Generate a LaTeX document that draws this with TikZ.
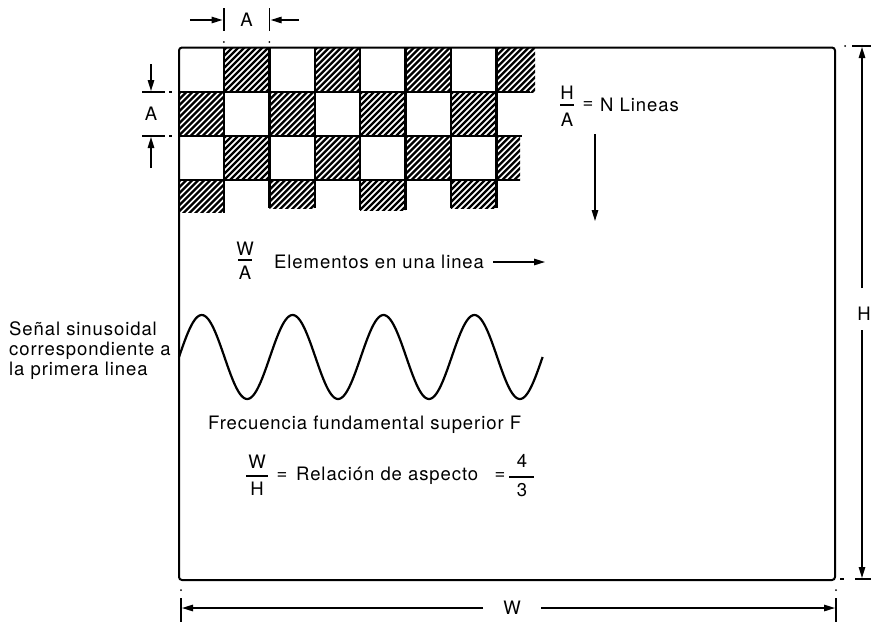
\documentclass[tikz,border=0pt]{standalone}
\usepackage{fontspec}
\setmainfont{TeX Gyre Heros}[LetterSpace=5]
\usetikzlibrary{arrows.meta}
\newcommand\hcell[4]{\begin{scope}\clip (#1,#2) rectangle (#3,#4);
  \foreach \s in {-50,-44,...,56} \draw[hatchline] (#1+\s,#4+2) -- ++(56,-56);
  \end{scope}}
\begin{document}
\begin{tikzpicture}[x=1pt,y=-1pt,
  txt/.style={font=\fontsize{18.5}{20}\selectfont, inner sep=0pt},
  dimline/.style={line width=1.4pt},
  arr/.style={line width=1.4pt, -{Triangle[length=11pt,width=6.5pt]}},
  frame/.style={line width=2pt, rounded corners=3pt},
  gridline/.style={line width=2.4pt},
  hatchline/.style={line width=2.3pt},
  wave/.style={line width=2.2pt},
  fracbar/.style={line width=1.3pt}]
\useasboundingbox (0,0) rectangle (871,622);

% ---------- hatched cells ----------
% row 0 (48-92)
\hcell{223.9}{48}{269.3}{92}
\hcell{314.7}{48}{360.1}{92}
\hcell{405.5}{48}{450.9}{92}
\hcell{496.3}{48}{535}{92}
% row 1 (92-136)
\hcell{178.5}{92}{223.9}{136}
\hcell{269.3}{92}{314.7}{136}
\hcell{360.1}{92}{405.5}{136}
\hcell{450.9}{92}{496.3}{136}
% row 2 (136-180)
\hcell{223.9}{136}{269.3}{180}
\hcell{314.7}{136}{360.1}{180}
\hcell{405.5}{136}{450.9}{180}
\hcell{496.3}{136}{520}{180}
% row 3 (partial)
\hcell{178.5}{180}{223.9}{212}
\hcell{269.3}{180}{314.7}{208}
\hcell{360.1}{180}{405.5}{210}
\hcell{450.9}{180}{496.3}{208}

% ---------- grid lines ----------
\draw[gridline] (178.5,92) -- (530,92);
\draw[gridline] (178.5,136) -- (522,136);
\draw[gridline] (178.5,180) -- (520,180);
\foreach \xx/\yb in {223.9/213, 269.3/208, 314.7/208, 360.1/210, 405.5/210, 450.9/208, 496.3/208}
  \draw[gridline] (\xx,48) -- (\xx,\yb);

% ---------- frame ----------
\draw[frame] (179,47.5) rectangle (835,580);

% ---------- sine wave ----------
\draw[wave] plot[domain=0:363.6, samples=240, smooth] ({179+\x},{357-42*sin(\x*3.9604)});

% ---------- top A dimension ----------
\coordinate (ta1) at (223.9,8);
\coordinate (ta2) at (269.3,8);
\draw[dimline] (ta1) -- (223.9,31);
\draw[dimline] (ta2) -- (269.3,31);
\fill (223.9,42) circle (1pt);
\fill (269.3,42) circle (1pt);
\coordinate (tal) at (190,20);
\coordinate (tar) at (299,20);
\draw[arr] (tal) -- (222.5,20);
\draw[arr] (tar) -- (270.7,20);
\node[txt] (topA) at (246.6,20) {A};

% ---------- left A dimension ----------
\draw[dimline] (142,92) -- (165,92);
\draw[dimline] (142,136) -- (165,136);
\draw[dimline] (169,92) -- (172,92);
\draw[dimline] (169,136) -- (172,136);
\coordinate (la1) at (151,64);
\coordinate (la2) at (151,168);
\draw[arr] (la1) -- (151,91);
\draw[arr] (la2) -- (151,137);
\node[txt] (leftA) at (151,114) {A};

% ---------- H/A = N Lineas ----------
\node[txt] (haH) at (567,93) {H};
\draw[fracbar] (560,105) -- (574,105);
\node[txt] (haA) at (567,120) {A};
\node[txt] (haEq) at (588,105) {=};
\node[txt, anchor=west] (haTxt) at (600,105) {N Lineas};
\coordinate (dn1) at (595,134);
\coordinate (dn2) at (595,221);
\draw[arr] (dn1) -- (dn2);

% ---------- W/A Elementos ----------
\node[txt] (waW) at (245,249) {W};
\draw[fracbar] (238,260) -- (252,260);
\node[txt] (waA) at (245,273) {A};
\node[txt, anchor=west] (waTxt) at (274,262) {Elementos en una linea};
\coordinate (ea1) at (493,262);
\coordinate (ea2) at (545,262);
\draw[arr] (ea1) -- (ea2);

% ---------- left label ----------
\node[txt, anchor=west, align=left] (senal) at (9,351)
  {Señal sinusoidal\\correspondiente a\\la primera linea};

% ---------- frequency ----------
\node[txt, anchor=west] (frec) at (208,425) {Frecuencia fundamental superior F};

% ---------- W/H = aspect ----------
\node[txt] (whW) at (257,462) {W};
\draw[fracbar] (246,476) -- (268,476);
\node[txt] (whH) at (257,489) {H};
\node[txt] (whEq) at (282,476) {=};
\node[txt, anchor=west] (rel) at (296,476) {Relación de aspecto};
\node[txt] (whEq2) at (500,476) {=};
\node[txt] (n4) at (522,461) {4};
\draw[fracbar] (509,477) -- (534,477);
\node[txt] (n3) at (522,490) {3};

% ---------- right H dimension ----------
\draw[dimline] (852,46) -- (871,46);
\draw[dimline] (855,579) -- (871,579);
\fill (845,46) circle (1pt);
\draw[dimline] (840,579) -- (844,579);
\coordinate (hu) at (862,288);
\coordinate (hd) at (862,330);
\draw[arr] (hu) -- (862,47);
\draw[arr] (hd) -- (862,578);
\node[txt] (hlab) at (864,314) {H};

% ---------- bottom W dimension ----------
\draw[dimline] (181,598) -- (181,622);
\draw[dimline] (836,598) -- (836,622);
\fill (181,590) circle (1pt);
\fill (836,590) circle (1pt);
\coordinate (wl) at (483,608);
\coordinate (wr) at (541,608);
\draw[arr] (wl) -- (182,608);
\draw[arr] (wr) -- (835,608);
\node[txt] (wlab) at (512,608) {W};
\end{tikzpicture}
\end{document}
